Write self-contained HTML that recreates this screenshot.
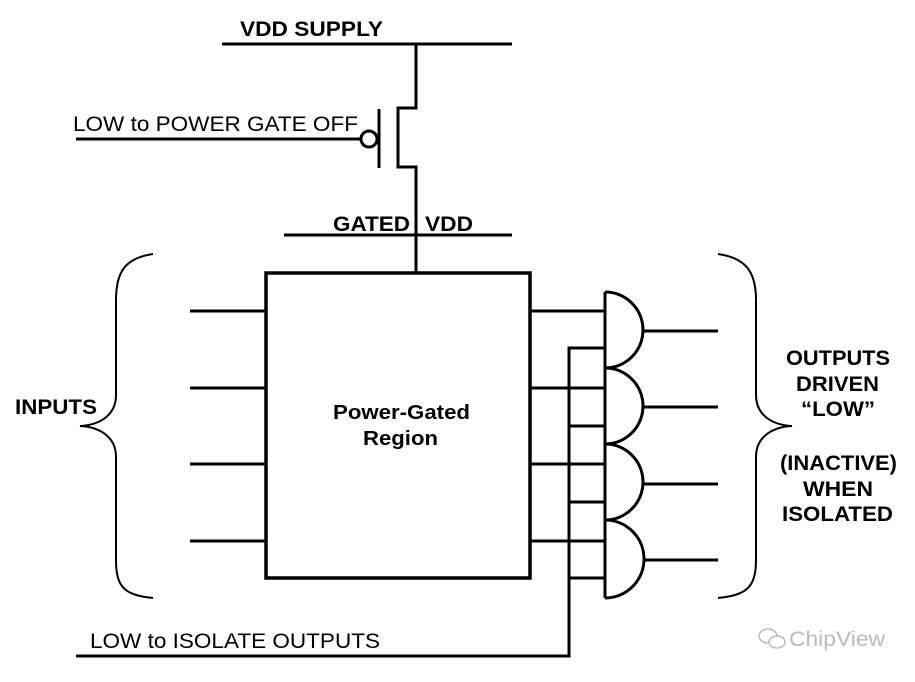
<!DOCTYPE html>
<html><head><style>body{margin:0;background:#fff}svg{display:block}</style></head><body>
<svg width="915" height="682" viewBox="0 0 915 682" xmlns="http://www.w3.org/2000/svg">
<g stroke="#000" fill="none" stroke-width="3">
<line x1="222" y1="44" x2="512" y2="44"/>
<polyline points="416,44 416,108 398,108 398,167 416,167 416,272"/>
<line x1="379" y1="109" x2="379" y2="168"/>
<circle cx="369" cy="139" r="8"/>
<line x1="76" y1="139" x2="361" y2="139"/>
<line x1="284" y1="235" x2="512" y2="235"/>
<rect x="266" y="273" width="264" height="305" stroke-width="3.5"/>
<line x1="190" y1="311" x2="266" y2="311"/>
<line x1="190" y1="388" x2="266" y2="388"/>
<line x1="190" y1="464" x2="266" y2="464"/>
<line x1="190" y1="541" x2="266" y2="541"/>
<line x1="530" y1="311" x2="605" y2="311"/>
<line x1="530" y1="388" x2="605" y2="388"/>
<line x1="530" y1="464" x2="605" y2="464"/>
<line x1="530" y1="541" x2="605" y2="541"/>
<line x1="605" y1="292" x2="605" y2="598"/>
<path d="M605,292 A38,38 0 0 1 605,368 A38,38 0 0 1 605,444 A38,38 0 0 1 605,520 A38,38 0 0 1 605,598"/>
<line x1="643" y1="331" x2="718" y2="331"/>
<line x1="643" y1="407" x2="718" y2="407"/>
<line x1="643" y1="484" x2="718" y2="484"/>
<line x1="643" y1="560" x2="718" y2="560"/>
<polyline points="605,348 569,348 569,656 76,656"/>
<line x1="569" y1="426" x2="605" y2="426"/>
<line x1="569" y1="502" x2="605" y2="502"/>
<line x1="569" y1="578" x2="605" y2="578"/>
</g>
<g stroke="#000" fill="none" stroke-width="2">
<path d="M153,254 C125,258 116,272 116,300 L116,395 C116,415 100,425 80,426 C100,427 116,437 116,457 L116,560 C116,588 125,595 153,598"/>
<path d="M718,254 C746,258 756,272 756,300 L756,395 C756,415 772,425 792,426 C772,427 756,437 756,457 L756,560 C756,588 746,595 718,598"/>
</g>
<g font-family="Liberation Sans, sans-serif" fill="#000">
<text x="240" y="36" font-size="21" font-weight="bold" textLength="143" lengthAdjust="spacingAndGlyphs">VDD SUPPLY</text>
<text x="73" y="131" font-size="21" textLength="285" lengthAdjust="spacingAndGlyphs">LOW to POWER GATE OFF</text>
<text x="333" y="231" font-size="21" font-weight="bold" textLength="77" lengthAdjust="spacingAndGlyphs">GATED</text>
<text x="425" y="231" font-size="21" font-weight="bold" textLength="48" lengthAdjust="spacingAndGlyphs">VDD</text>
<text x="15" y="414" font-size="21" font-weight="bold" textLength="82" lengthAdjust="spacingAndGlyphs">INPUTS</text>
<text x="333" y="419" font-size="20" font-weight="bold" textLength="137" lengthAdjust="spacingAndGlyphs">Power-Gated</text>
<text x="363" y="445" font-size="20" font-weight="bold" textLength="75" lengthAdjust="spacingAndGlyphs">Region</text>
<g font-size="21" font-weight="bold">
<text x="786" y="365" textLength="104" lengthAdjust="spacingAndGlyphs">OUTPUTS</text>
<text x="796" y="391" textLength="83" lengthAdjust="spacingAndGlyphs">DRIVEN</text>
<text x="801" y="416" textLength="74" lengthAdjust="spacingAndGlyphs">“LOW”</text>
<text x="780" y="470" textLength="117" lengthAdjust="spacingAndGlyphs">(INACTIVE)</text>
<text x="803" y="496" textLength="70" lengthAdjust="spacingAndGlyphs">WHEN</text>
<text x="782" y="521" textLength="111" lengthAdjust="spacingAndGlyphs">ISOLATED</text>
</g>
<text x="90" y="648" font-size="21" textLength="290" lengthAdjust="spacingAndGlyphs">LOW to ISOLATE OUTPUTS</text>
<text x="789" y="646" font-size="21" fill="#bbb" textLength="96" lengthAdjust="spacingAndGlyphs">ChipView</text>
</g>
<g stroke="#bbb" fill="none" stroke-width="1.5"><ellipse cx="768" cy="636" rx="9" ry="7"/><ellipse cx="777" cy="642" rx="8" ry="6" fill="#fff"/></g>
</svg>
</body></html>
